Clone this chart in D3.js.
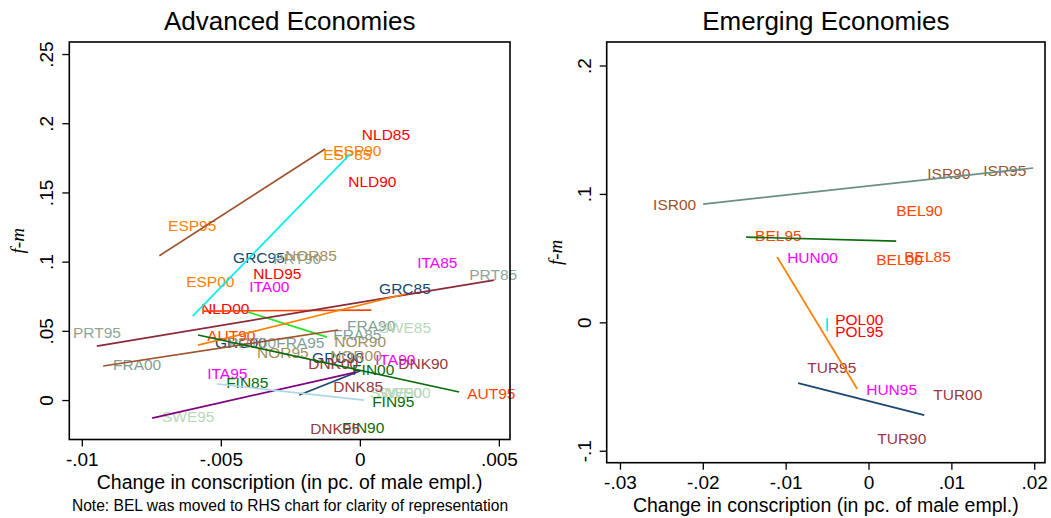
<!DOCTYPE html>
<html>
<head>
<meta charset="utf-8">
<script src="https://cdn.jsdelivr.net/npm/d3@7"></script>
<style>
  body { margin: 0; background: #fff; }
  svg { font-family: "Liberation Sans", Arial, sans-serif; }
  .axis text { font-size: 19px; fill: #000; }
  .axis line { stroke: #000; stroke-width: 1.3; }
  .lbl { font-size: 15.5px; }
</style>
</head>
<body>
<svg id="chart" width="1051" height="518"></svg>
<script>
// Advanced economies: country-year labels [code, change in conscription, f-m]
const advPoints = [
  ["NLD85", 0.0000, 0.1922], ["NLD90", -0.00049, 0.1582], ["NLD95", -0.00391, 0.0918], ["NLD00", -0.00578, 0.0665],
  ["ESP85", -0.00139, 0.1777], ["ESP90", -0.00103, 0.1806], ["ESP95", -0.00697, 0.1264], ["ESP00", -0.00632, 0.0860],
  ["ITA85", 0.00199, 0.0997], ["ITA90", 0.00048, 0.0296], ["ITA95", -0.00556, 0.0195], ["ITA00", -0.00405, 0.0824],
  ["GRC85", 0.00062, 0.0809], ["GRC90", -0.00179, 0.0311], ["GRC95", -0.00463, 0.1033], ["GRC00", -0.00528, 0.0419],
  ["PRT85", 0.00386, 0.0910], ["PRT90", -0.00319, 0.1026], ["PRT95", -0.01039, 0.0491], ["PRT00", -0.00481, 0.0419],
  ["NOR85", -0.00276, 0.1048], ["NOR90", -0.00099, 0.0426], ["NOR95", -0.00377, 0.0347], ["NOR00", -0.00114, 0.0325],
  ["FRA85", -0.00103, 0.0477], ["FRA90", -0.00053, 0.0542], ["FRA95", -0.00308, 0.0419], ["FRA00", -0.00895, 0.0260],
  ["SWE85", 0.00060, 0.0527], ["SWE90", 0.00028, 0.0058], ["SWE95", -0.00719, -0.0116], ["SWE00", 0.00058, 0.0058],
  ["AUT90", -0.00556, 0.0470], ["AUT95", 0.00379, 0.0051],
  ["FIN85", -0.00488, 0.0130], ["FIN90", -0.00071, -0.0195], ["FIN95", 0.00037, -0.0007], ["FIN00", -0.00035, 0.0224],
  ["DNK85", -0.00103, 0.0101], ["DNK90", 0.00131, 0.0267], ["DNK95", -0.00186, -0.0202], ["DNK00", -0.00193, 0.0267]
];

// Advanced economies: fitted lines [country, x1, y1, x2, y2]
const advFits = [
  ["ESP", -0.00721, 0.1043, -0.00125, 0.1814],
  ["NLD", -0.00601, 0.0607, -0.00035, 0.1777],
  ["ITA", -0.00564, 0.0643, 0.00041, 0.0650],
  ["GRC", -0.00402, 0.0636, -0.00118, 0.0455],
  ["PRT", -0.00946, 0.0390, 0.00483, 0.0867],
  ["NOR", -0.00582, 0.0397, 0.00163, 0.0766],
  ["FRA", -0.00923, 0.0246, -0.00078, 0.0506],
  ["AUT", -0.00582, 0.0470, 0.00357, 0.0058],
  ["FIN", -0.00218, 0.0036, 0.0000, 0.0210],
  ["SWE", -0.00747, -0.0130, -0.00013, 0.0202],
  ["DNK", -0.00513, 0.0116, 0.00015, 0.0000]
];

// Emerging economies
const emePoints = [
  ["ISR90", 0.00685, 0.1163], ["ISR95", 0.01361, 0.1186], ["ISR00", -0.02624, 0.0921],
  ["BEL90", 0.00310, 0.0875], ["BEL95", -0.01393, 0.0680], ["BEL85", 0.00407, 0.0516], ["BEL00", 0.00069, 0.0493],
  ["HUN00", -0.01006, 0.0509], ["HUN95", -0.00052, -0.0519],
  ["POL00", -0.00426, 0.0026], ["POL95", -0.00426, -0.0068],
  ["TUR95", -0.00764, -0.0348], ["TUR00", 0.00757, -0.0558], ["TUR90", 0.00081, -0.0901]
];

const emeFits = [
  ["ISR", -0.01996, 0.0921, 0.01989, 0.1202],
  ["BEL", -0.01477, 0.0664, 0.00334, 0.0633],
  ["HUN", -0.01103, 0.0509, -0.00136, -0.0519],
  ["POL", -0.00499, 0.0033, -0.00499, -0.0068],
  ["TUR", -0.00849, -0.0473, 0.00673, -0.0722]
];

const advXTicks = [-0.01, -0.005, 0, 0.005];
const advYTicks = [0, 0.05, 0.1, 0.15, 0.2, 0.25];
const emeXTicks = [-0.03, -0.02, -0.01, 0, 0.01, 0.02];
const emeYTicks = [-0.1, 0, 0.1, 0.2];

// label colours per country
const labelColor = {
  NLD: "#ff0000", ESP: "#ff8000", ITA: "#ff00ff", GRC: "#1a476f", PRT: "#8ea59c",
  NOR: "#a58f5c", FRA: "#7f9f98", SWE: "#b8d8b8", AUT: "#ff4500", FIN: "#0b6b0b",
  DNK: "#98393f", ISR: "#a0522d", BEL: "#ff4500", HUN: "#ff00ff", POL: "#ff0000", TUR: "#98393f"
};

// fit line colours per country
const lineColor = {
  ESP: "#a0522d", NLD: "#00f0f0", ITA: "#ff4500", GRC: "#22e622", PRT: "#8b2a3a",
  NOR: "#ff8000", FRA: "#a0522d", AUT: "#0b6b0b", FIN: "#1a476f", SWE: "#800080",
  DNK: "#add8e6", ISR: "#6a8f86", BEL: "#0b6b0b", HUN: "#ff8000", POL: "#00f0f0", TUR: "#1a476f"
};

const svg = d3.select("#chart");

function fmt(d) {
  return String(+d.toFixed(3)).replace("0.", ".");
}

function drawPanel(p) {
  const x = d3.scaleLinear().domain(p.xDomain).range([p.left, p.right]);
  const y = d3.scaleLinear().domain(p.yDomain).range([p.bottom, p.top]);
  const g = svg.append("g");

  // labels
  g.selectAll(".lbl")
   .data(p.points)
   .join("text")
   .attr("class", "lbl")
   .attr("x", d => x(d[1]) + 2)
   .attr("y", d => y(d[2]))
   .attr("dy", "0.36em")
   .attr("fill", d => labelColor[d[0].slice(0, 3)])
   .text(d => d[0]);

  // fitted lines
  g.selectAll(".fit")
   .data(p.fits)
   .join("line")
   .attr("class", "fit")
   .attr("x1", d => x(d[1])).attr("y1", d => y(d[2]))
   .attr("x2", d => x(d[3])).attr("y2", d => y(d[4]))
   .attr("stroke", d => lineColor[d[0]])
   .attr("stroke-width", 1.7);

  // frame
  g.append("rect")
   .attr("x", p.left).attr("y", p.top)
   .attr("width", p.right - p.left).attr("height", p.bottom - p.top)
   .attr("fill", "none").attr("stroke", "#000").attr("stroke-width", 1.6);

  // axes
  const xAxis = g.append("g")
    .attr("class", "axis")
    .attr("transform", `translate(0,${p.bottom})`)
    .call(d3.axisBottom(x).tickValues(p.xTicks).tickFormat(fmt).tickSize(7).tickSizeOuter(0));
  xAxis.select(".domain").remove();
  xAxis.selectAll("text").attr("y", 13).attr("dy", "0.71em");

  const yAxis = g.append("g")
    .attr("class", "axis")
    .attr("transform", `translate(${p.left},0)`)
    .call(d3.axisLeft(y).tickValues(p.yTicks).tickFormat(fmt).tickSize(7).tickSizeOuter(0));
  yAxis.select(".domain").remove();
  yAxis.selectAll("text")
       .attr("transform", "rotate(-90)")
       .attr("x", 0).attr("y", -16).attr("dy", 0)
       .attr("text-anchor", "middle");

  // titles
  const cx = (p.left + p.right) / 2;
  g.append("text")
   .attr("x", cx).attr("y", 30)
   .attr("text-anchor", "middle")
   .attr("font-size", 26)
   .text(p.title);

  g.append("text")
   .attr("x", cx).attr("y", p.bottom + 49)
   .attr("text-anchor", "middle")
   .attr("font-size", 19.5)
   .text("Change in conscription (in pc. of male empl.)");

  g.append("text")
   .attr("transform", `translate(${p.left - 45},${(p.top + p.bottom) / 2}) rotate(-90)`)
   .attr("text-anchor", "middle")
   .attr("font-family", "'Liberation Serif', 'DejaVu Serif', serif")
   .attr("font-style", "italic")
   .attr("font-size", 19)
   .text("f-m");
}

drawPanel({
  title: "Advanced Economies",
  points: advPoints, fits: advFits,
  xTicks: advXTicks, yTicks: advYTicks,
  xDomain: [-0.01045, 0.0054], yDomain: [-0.0285, 0.2587],
  left: 69.3, right: 510, top: 42, bottom: 439.5
});

drawPanel({
  title: "Emerging Economies",
  points: emePoints, fits: emeFits,
  xTicks: emeXTicks, yTicks: emeYTicks,
  xDomain: [-0.0316, 0.0213], yDomain: [-0.1093, 0.2183],
  left: 606.7, right: 1045, top: 42, bottom: 462.7
});

svg.append("text")
   .attr("x", 290).attr("y", 511)
   .attr("text-anchor", "middle")
   .attr("font-size", 15.6)
   .text("Note: BEL was moved to RHS chart for clarity of representation");
</script>
</body>
</html>
